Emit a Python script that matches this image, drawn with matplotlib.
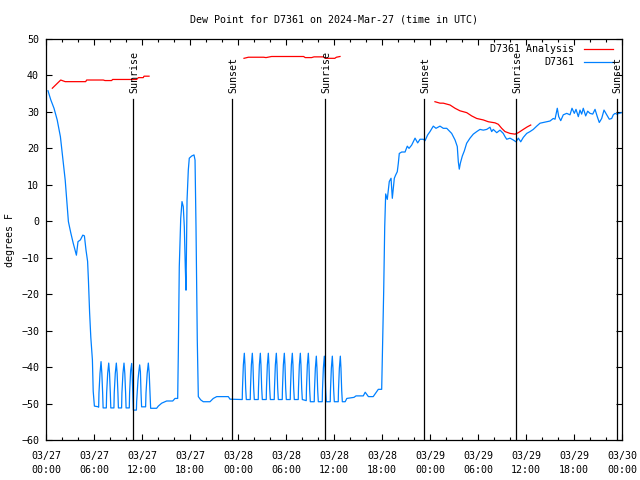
import matplotlib
matplotlib.use("Agg")
import matplotlib.pyplot as plt

# hours since 2024-03-27 00:00 UTC, dew point in deg F
blue_pts = [
    (0.25, 35.8), (0.6, 33.3), (1.0, 31.0), (1.4, 27.8), (1.8, 23.2), (2.1, 17.3),
    (2.4, 11.3), (2.67, 3.6), (2.8, -0.1), (3.1, -3.2), (3.4, -6.0), (3.8, -9.3),
    (4.0, -5.6), (4.3, -5.1), (4.6, -3.8), (4.8, -4.0), (5.0, -7.9), (5.2, -11.0),
    (5.3, -16.0), (5.45, -25.0), (5.6, -31.8), (5.8, -38.0), (5.9, -46.6), (6.05, -50.7),
    (6.55, -50.9),
    (6.58, -51.0), (6.62, -47.1), (6.75, -41.7), (6.88, -38.5), (6.98, -41.7), (7.08, -47.1), (7.14, -51.2),
    (7.54, -51.2), (7.58, -47.1), (7.71, -41.7), (7.84, -38.9), (7.94, -41.7), (8.04, -47.1), (8.10, -51.2),
    (8.49, -51.2), (8.53, -47.1), (8.66, -41.7), (8.79, -38.9), (8.89, -41.7), (8.99, -47.1), (9.05, -51.2),
    (9.45, -51.2), (9.49, -47.1), (9.62, -41.7), (9.75, -38.9), (9.85, -41.7), (9.95, -47.1), (10.01, -51.2),
    (10.41, -51.2), (10.45, -47.1), (10.58, -41.0), (10.64, -40.0), (10.71, -39.0), (10.78, -42.5),
    (10.85, -47.1), (10.92, -51.8), (11.30, -51.8),
    (11.33, -49.5), (11.50, -43.5), (11.60, -41.3), (11.71, -39.4), (11.80, -41.3), (11.88, -47.1), (11.95, -50.9),
    (12.45, -50.9), (12.50, -47.1), (12.65, -41.7), (12.79, -38.9), (12.90, -41.7), (13.0, -47.1), (13.08, -51.3),
    (13.83, -51.3), (14.04, -50.7), (14.46, -49.9), (15.08, -49.3), (15.84, -49.3), (16.13, -48.6),
    (16.46, -48.6), (16.54, -36.2), (16.66, -12.5), (16.84, 0.8), (17.0, 5.4), (17.16, 4.0),
    (17.29, -1.5), (17.41, -12.5), (17.5, -18.9), (17.54, -10.6), (17.63, 5.8), (17.79, 14.1),
    (17.91, 17.3), (18.21, 17.9), (18.5, 18.2), (18.63, 16.8), (18.75, -1.5), (18.91, -32.6),
    (19.04, -48.1), (19.34, -49.0), (19.66, -49.5), (20.5, -49.5), (20.91, -48.6), (21.34, -48.1),
    (22.79, -48.1), (23.0, -48.8), (24.50, -48.9),
    (24.53, -48.9), (24.56, -45.8), (24.67, -39.4), (24.79, -36.2), (24.87, -39.4), (24.96, -45.8), (25.04, -48.9),
    (25.53, -48.9), (25.56, -45.8), (25.67, -39.4), (25.79, -36.2), (25.87, -39.4), (25.96, -45.8), (26.04, -48.9),
    (26.53, -48.9), (26.56, -45.8), (26.67, -39.4), (26.79, -36.2), (26.87, -39.4), (26.96, -45.8), (27.04, -48.9),
    (27.53, -48.9), (27.56, -45.8), (27.67, -39.4), (27.79, -36.2), (27.87, -39.4), (27.96, -45.8), (28.04, -48.9),
    (28.53, -48.9), (28.56, -45.8), (28.67, -39.4), (28.79, -36.2), (28.87, -39.4), (28.96, -45.8), (29.04, -48.9),
    (29.53, -48.9), (29.56, -45.8), (29.67, -39.4), (29.79, -36.2), (29.87, -39.4), (29.96, -45.8), (30.04, -48.9),
    (30.53, -48.9), (30.56, -45.8), (30.67, -39.4), (30.79, -36.2), (30.87, -39.4), (30.96, -45.8), (31.04, -48.9),
    (31.53, -48.9), (31.56, -45.8), (31.67, -39.4), (31.79, -36.2), (31.87, -39.4), (31.96, -45.8), (32.04, -48.9),
    (32.53, -49.2), (32.56, -45.8), (32.67, -39.4), (32.79, -36.2), (32.87, -39.4), (32.96, -46.3), (33.04, -49.5),
    (33.53, -49.5), (33.56, -46.3), (33.67, -40.3), (33.79, -37.0), (33.87, -40.3), (33.96, -46.3), (34.04, -49.5),
    (34.53, -49.5), (34.56, -46.3), (34.67, -40.3), (34.79, -37.0), (34.87, -40.3), (34.96, -46.3), (35.04, -49.5),
    (35.53, -49.5), (35.56, -46.3), (35.67, -40.3), (35.79, -37.0), (35.87, -40.3), (35.96, -46.3), (36.04, -49.5),
    (36.53, -49.5), (36.56, -46.3), (36.67, -40.3), (36.79, -37.0), (36.87, -40.3), (36.96, -46.3), (37.04, -49.5),
    (37.4, -49.5), (37.6, -48.6), (38.5, -48.3), (38.75, -47.9), (39.66, -47.9), (39.9, -46.9),
    (40.3, -48.1), (40.9, -48.1), (41.54, -46.1), (41.96, -46.1), (42.04, -37.6), (42.21, -19.3),
    (42.34, -1.5), (42.46, 7.5), (42.66, 6.0), (42.91, 10.9), (43.13, 11.8), (43.29, 6.3),
    (43.54, 11.8), (43.71, 12.7), (43.91, 13.6), (44.04, 15.9), (44.16, 18.6), (44.46, 19.0),
    (44.88, 19.0), (45.16, 20.6), (45.38, 20.0), (45.71, 20.9), (46.13, 22.8), (46.46, 21.5),
    (46.75, 22.5), (47.16, 22.5), (47.38, 22.1), (47.71, 23.7), (48.0, 24.6), (48.41, 26.1),
    (48.75, 25.5), (49.25, 26.1), (49.66, 25.5), (50.09, 25.5), (50.71, 24.1), (51.13, 22.3),
    (51.41, 20.5), (51.54, 16.3), (51.66, 14.3), (51.79, 15.9), (52.04, 17.9), (52.29, 19.3),
    (52.58, 21.4), (53.0, 22.8), (53.41, 23.9), (53.84, 24.6), (54.25, 25.2), (54.66, 25.0),
    (55.09, 25.2), (55.5, 25.8), (55.71, 24.6), (55.91, 25.2), (56.34, 24.3), (56.75, 25.0),
    (57.16, 24.1), (57.38, 23.2), (57.59, 22.5), (58.0, 22.8), (58.41, 22.3), (58.75, 21.8),
    (59.04, 22.8), (59.34, 21.8), (59.66, 23.0), (60.09, 24.1), (60.5, 24.6), (60.91, 25.2),
    (61.34, 26.1), (61.75, 26.9), (62.16, 27.1), (62.59, 27.3), (63.0, 27.5), (63.41, 28.2),
    (63.63, 28.0), (63.91, 31.0), (64.09, 28.7), (64.34, 27.6), (64.66, 29.2), (65.09, 29.6),
    (65.5, 29.2), (65.75, 31.0), (66.04, 29.6), (66.25, 30.7), (66.54, 28.7), (66.75, 30.5),
    (66.96, 29.4), (67.16, 31.0), (67.46, 28.9), (67.71, 30.2), (68.0, 29.6), (68.34, 29.4),
    (68.63, 30.7), (68.91, 28.7), (69.16, 27.1), (69.46, 28.2), (69.75, 30.5), (70.09, 29.2),
    (70.41, 28.0), (70.71, 28.2), (70.91, 29.2), (71.13, 29.6), (71.34, 29.4), (71.66, 29.6),
    (71.96, 29.8),
]

# analysis runs (three separate segments)
red_seg1 = [(0.79, 36.5), (1.84, 38.75), (2.4, 38.3), (4.96, 38.3), (5.08, 38.75), (7.16, 38.75),
            (7.37, 38.6), (8.2, 38.6), (8.33, 38.9), (11.33, 38.9), (11.54, 39.4), (12.16, 39.4),
            (12.25, 39.8), (12.88, 39.8)]
red_seg2 = [(24.75, 44.7), (25.3, 45.0), (27.2, 45.0), (27.5, 44.9), (28.2, 45.2), (32.2, 45.2),
            (32.4, 44.9), (33.2, 44.9), (33.5, 45.1), (34.7, 45.1), (34.9, 44.7), (36.1, 44.7),
            (36.3, 45.0), (36.75, 45.2)]
red_seg3 = [(48.62, 32.8), (49.25, 32.4), (49.66, 32.4), (50.5, 31.9), (51.13, 31.0), (51.75, 30.3),
            (52.59, 29.8), (53.21, 28.9), (53.84, 28.2), (54.66, 27.8), (55.29, 27.3), (56.13, 27.0),
            (56.54, 26.6), (56.96, 25.5), (57.38, 24.6), (58.0, 24.1), (58.63, 23.9), (59.04, 24.3),
            (59.66, 25.2), (60.16, 25.9), (60.59, 26.4)]

sun_hours = [10.92, 23.29, 34.92, 47.29, 58.79, 71.33]
sun_labels = ["Sunrise", "Sunset", "Sunrise", "Sunset", "Sunrise", "Sunset"]

tick_hours = list(range(0, 73, 6))
tick_labels = ["03/27\n00:00", "03/27\n06:00", "03/27\n12:00", "03/27\n18:00",
               "03/28\n00:00", "03/28\n06:00", "03/28\n12:00", "03/28\n18:00",
               "03/29\n00:00", "03/29\n06:00", "03/29\n12:00", "03/29\n18:00",
               "03/30\n00:00"]

plt.rcParams['font.family'] = ['DejaVu Sans Mono']
FS = 7.2
RED = '#ff0000'
BLUE = '#0080ff'
LW = 0.9

fig = plt.figure(figsize=(6.4, 4.8), dpi=100)
ax = fig.add_axes([46 / 640, 40 / 480, 576 / 640, 401 / 480])

for seg in (red_seg1, red_seg2, red_seg3):
    ax.plot([p[0] for p in seg], [p[1] for p in seg], color=RED, lw=LW)
ax.plot([p[0] for p in blue_pts], [p[1] for p in blue_pts], color=BLUE, lw=LW)

for h, lab in zip(sun_hours, sun_labels):
    ax.plot([h, h], [33.5, -60], color='black', lw=LW)
    ax.text(h + 0.15, 35.3, lab, rotation=90, ha='center', va='bottom', fontsize=FS)

ax.set_xlim(0, 72)
ax.set_ylim(-60, 50)
ax.set_xticks(tick_hours)
ax.set_xticklabels(tick_labels, fontsize=FS, linespacing=1.5)
ax.set_xticks(range(0, 73, 2), minor=True)
ax.set_yticks(range(-60, 51, 10))
ax.tick_params(axis='y', labelsize=FS)
ax.tick_params(which='major', direction='in', length=4.5, width=0.8, top=True, right=True, pad=5)
ax.tick_params(axis='x', which='major', pad=8)
ax.tick_params(which='minor', direction='in', length=2.5, width=0.8, top=True, right=False)
for s in ax.spines.values():
    s.set_linewidth(0.9)

# legend (right-aligned labels, sample line after)
ax.text(0.9167, 0.975, "D7361 Analysis", transform=ax.transAxes, ha='right', va='center', fontsize=FS)
ax.text(0.9167, 0.9426, "D7361", transform=ax.transAxes, ha='right', va='center', fontsize=FS)
ax.plot([0.934, 0.984], [0.975, 0.975], transform=ax.transAxes, color=RED, lw=LW)
ax.plot([0.934, 0.984], [0.9426, 0.9426], transform=ax.transAxes, color=BLUE, lw=LW)

fig.text(334 / 640, 1 - 19 / 480, "Dew Point for D7361 on 2024-Mar-27 (time in UTC)",
         ha='center', va='center', fontsize=FS)
fig.text(10 / 640, 0.5, "degrees F", rotation=90, ha='center', va='center', fontsize=FS)

fig.savefig("out.png", dpi=100)
